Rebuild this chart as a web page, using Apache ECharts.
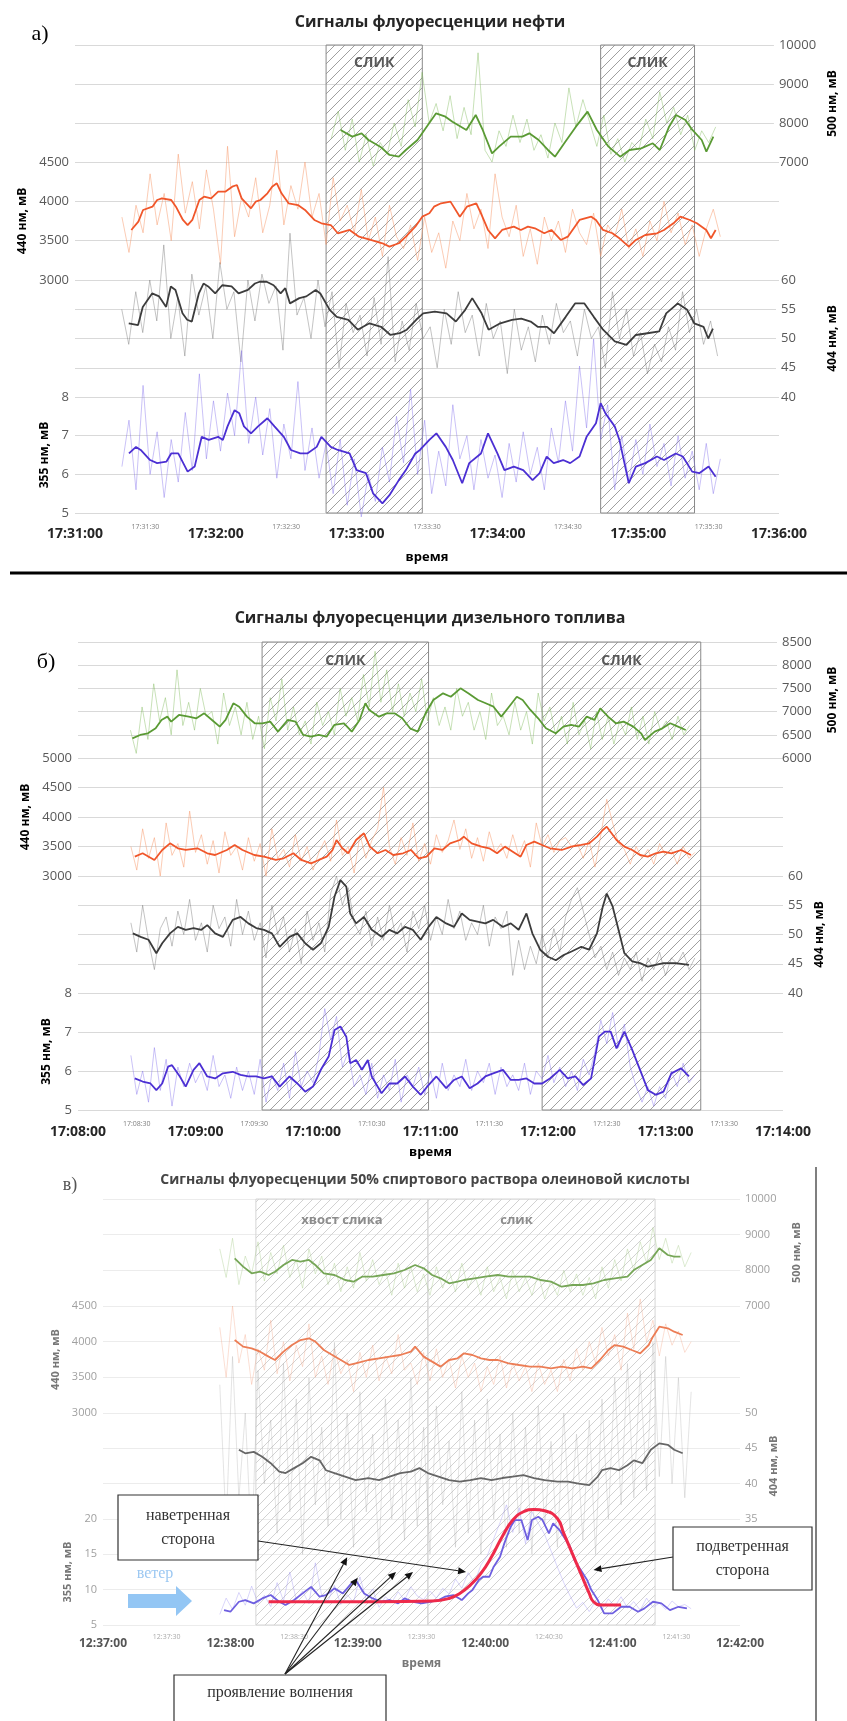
<!DOCTYPE html>
<html><head><meta charset="utf-8">
<script src="https://cdn.jsdelivr.net/npm/echarts@6/dist/echarts.min.js"></script>
<style>html,body{margin:0;padding:0;background:#fff}#c{width:847px;height:1721px}</style>
</head><body><div id="c"></div>
<script>
// ===================== DATA =====================
// time in seconds from the panel's first tick
const aBase = '17:31:00', bBase = '17:08:00', cBase = '12:37:00';
const aTicks = {g:[7000,10000,1000], o:[3000,4500,500], k:[40,60,5], b:[5,8,1]};
const bTicks = {g:[6000,8500,500], o:[3000,5000,500], k:[40,60,5], b:[5,8,1]};
const cTicks = {g:[7000,10000,1000], o:[3000,4500,500], k:[35,50,5], b:[5,20,5]};
const aSlicks = [[107,148],[224,264]], aSlickNames = ['СЛИК','СЛИК'];
const bSlicks = [[94,179],[237,318]], bSlickNames = ['СЛИК','СЛИК'];
const cSlicks = [[72,153],[153,260]], cSlickNames = ['хвост слика','слик'];

// ---- panel a (нефть) smoothed ----
const aGreenS = [[114,7820],[119,7650],[123,7735],[126,7564],[131,7393],[135,7180],[139,7137],[142,7308],[147,7564],[152,7992],[155,8248],[159,8162],[162,8034],[168,7821],[172,8205],[175,7821],[179,7222],[182,7393],[187,7650],[192,7650],[195,7735],[199,7564],[203,7308],[206,7137],[210,7480],[215,7906],[220,8291],[224,7821],[229,7393],[234,7137],[238,7308],[243,7350],[248,7480],[251,7308],[255,7906],[258,8205],[262,8077],[265,7821],[269,7564],[271,7265],[274,7650]];
const aOrangeS = [[24,3636],[27,3741],[29,3890],[33,3932],[35,4017],[37,4038],[41,4017],[43,3932],[46,3763],[48,3699],[50,3763],[53,4017],[55,4059],[58,4038],[61,4123],[64,4123],[67,4186],[69,4208],[71,4038],[75,3911],[77,3996],[79,4017],[82,4102],[84,4186],[86,4229],[88,4102],[91,3975],[95,3953],[98,3890],[102,3763],[105,3721],[109,3699],[112,3594],[117,3636],[121,3551],[126,3509],[131,3467],[134,3424],[138,3467],[141,3551],[145,3678],[148,3805],[151,3848],[153,3932],[156,3975],[160,3996],[164,3805],[167,3932],[171,3975],[173,3848],[176,3636],[179,3530],[182,3636],[187,3678],[190,3636],[193,3678],[196,3657],[200,3594],[203,3636],[207,3509],[210,3551],[215,3763],[220,3805],[222,3763],[225,3636],[229,3594],[232,3530],[236,3424],[239,3509],[243,3572],[248,3594],[251,3636],[255,3721],[258,3805],[262,3763],[265,3721],[269,3636],[271,3530],[273,3636]];
const aBlackS = [[23,52.6],[27,52.3],[29,55.4],[33,57.7],[36,57.2],[39,55.4],[41,58.9],[43,58.3],[46,54.3],[48,53.2],[50,52.9],[53,57.7],[55,59.4],[57,58.9],[60,57.7],[63,59.1],[67,58.9],[70,57.7],[74,58.3],[77,59.4],[79,59.7],[82,59.7],[85,59.1],[88,57.7],[90,58.6],[92,56.0],[96,56.9],[99,57.2],[103,58.3],[105,57.7],[109,54.9],[112,53.7],[117,53.2],[121,51.5],[126,52.6],[131,52.0],[135,50.6],[139,50.9],[142,51.5],[146,53.2],[149,54.3],[154,54.6],[159,54.3],[163,52.9],[167,54.9],[170,56.9],[174,54.3],[177,51.5],[182,52.6],[187,53.2],[191,53.4],[195,52.9],[198,52.0],[202,52.0],[205,50.9],[210,53.7],[214,56.0],[218,56.0],[222,53.7],[226,51.5],[231,49.5],[236,48.9],[240,50.6],[245,50.9],[250,51.2],[253,54.3],[258,56.0],[262,54.9],[265,52.6],[269,52.0],[271,50.0],[273,51.7]];
const aBlueS = [[23,6.54],[26,6.71],[28,6.63],[32,6.37],[35,6.29],[39,6.33],[41,6.54],[44,6.54],[48,6.07],[51,6.20],[54,6.97],[57,6.89],[61,6.97],[63,6.89],[65,7.24],[68,7.66],[70,7.58],[72,7.24],[75,7.06],[78,7.24],[82,7.45],[85,7.24],[89,6.97],[92,6.63],[96,6.54],[99,6.54],[103,6.71],[105,6.97],[109,6.71],[112,6.63],[117,6.54],[120,6.11],[124,6.03],[127,5.51],[131,5.25],[134,5.46],[138,5.85],[141,6.11],[145,6.54],[147,6.63],[151,6.89],[154,7.06],[158,6.71],[161,6.37],[165,5.77],[168,6.29],[173,6.54],[176,7.06],[180,6.54],[183,6.11],[187,6.20],[191,6.11],[195,5.85],[198,6.03],[201,6.46],[204,6.29],[208,6.37],[211,6.29],[215,6.46],[218,6.97],[222,7.32],[224,7.84],[226,7.58],[230,7.24],[232,6.89],[236,5.77],[239,6.20],[243,6.29],[248,6.46],[251,6.37],[256,6.54],[259,6.46],[263,6.07],[266,6.03],[270,6.20],[273,5.94]];
// ---- panel a raw (every 3 s) ----
const aRawStep = 3, aGreenRawStart = 110, aRawStart = 20;
const aGreenRaw = [7600,8300,7300,8100,7000,7700,6900,7500,7200,8000,7400,8600,7900,9300,8000,8500,7800,8700,7600,8400,
 7700,9800,7300,7000,7800,7400,8200,7500,8100,7300,7700,7100,8000,7500,8900,7900,8600,8000,7400,8200,
 7200,7600,7000,7500,7300,8100,7600,8800,8000,8400,7700,8200,7300,7800,7500,7900];
const aOrangeRaw = [3800,3350,3950,3600,4350,3700,4100,3500,4600,3850,4250,3650,4400,3900,3200,4700,3550,4050,3800,4300,
 3600,3950,4650,3700,4200,3900,4500,3800,4100,3450,4300,3750,3950,3600,4150,3500,3800,3300,3950,3550,
 3400,3700,3250,3800,3350,3600,3150,3750,3500,4100,3650,3900,3400,4350,3800,3550,3950,3300,3650,3200,
 3800,3500,3750,3350,3900,3600,3450,3850,3300,3700,3550,3900,3400,3650,3300,3750,3500,4000,3600,3850,
 3450,3700,3300,3650,3900,3550];
const aBlackRaw = [55,49,58,51,60,53,66,50,57,47,61,54,59,50,63,55,58,46,60,53,
 61,56,59,48,68,54,57,50,60,52,58,45,56,51,54,47,57,49,64,46,
 53,48,56,50,52,45,55,49,58,51,54,47,56,50,53,44,55,48,52,46,
 54,49,56,51,53,47,55,50,52,45,58,50,55,47,51,44,49,46,52,48,
 58,51,55,49,53,47];
const aBlueRaw = [6.2,7.4,5.6,8.3,6.0,7.1,5.4,6.9,5.8,7.6,6.1,8.6,6.4,7.9,6.6,8.1,7.0,9.2,6.8,8.0,
 6.5,7.7,5.9,7.3,6.4,8.4,6.1,7.2,5.9,6.8,5.5,6.9,5.2,6.4,4.9,6.0,5.3,6.7,5.8,7.5,
 6.3,8.2,6.0,7.4,5.5,6.6,5.7,7.8,6.4,7.0,5.6,6.9,5.9,6.5,5.4,6.8,5.8,7.1,6.0,6.7,
 5.6,7.2,6.3,7.9,6.6,8.8,7.2,9.5,6.9,7.8,5.6,7.0,5.8,6.9,6.0,7.3,6.2,6.8,5.7,7.0,
 5.9,6.6,5.6,6.8,5.5,6.4];

// ---- panel b (дизельное топливо) smoothed ----
const bGreenS = [[28,6424],[32,6496],[36,6532],[40,6640],[43,6820],[46,6891],[48,6783],[52,6927],[57,6891],[61,6856],[65,6963],[69,6820],[73,6676],[76,6820],[80,7179],[83,7106],[87,6891],[91,6748],[95,6748],[99,6783],[103,6568],[108,6820],[112,6783],[116,6496],[120,6460],[124,6496],[128,6460],[132,6712],[137,6748],[141,6568],[145,6820],[148,7179],[150,7035],[155,6891],[159,6963],[163,6963],[167,6856],[171,6640],[175,6568],[179,6963],[183,7250],[188,7394],[192,7321],[197,7502],[201,7394],[206,7250],[210,7179],[214,7106],[218,6891],[222,7106],[226,7321],[229,7250],[233,7035],[237,6856],[241,6640],[246,6532],[250,6676],[254,6712],[258,6676],[262,6891],[266,6820],[269,7071],[273,6891],[277,6748],[281,6783],[286,6676],[290,6532],[292,6389],[297,6568],[301,6640],[305,6748],[309,6676],[313,6604]];
const bOrangeS = [[29,3328],[33,3385],[39,3272],[43,3441],[47,3554],[51,3470],[55,3441],[61,3470],[66,3385],[70,3356],[76,3441],[80,3526],[84,3441],[90,3356],[95,3328],[101,3272],[105,3300],[110,3385],[114,3272],[119,3215],[123,3272],[127,3328],[130,3441],[132,3610],[135,3470],[138,3385],[142,3610],[146,3724],[149,3498],[153,3385],[157,3441],[161,3356],[166,3385],[170,3441],[174,3300],[178,3328],[182,3470],[186,3441],[190,3554],[195,3610],[197,3667],[201,3554],[206,3498],[210,3470],[214,3385],[218,3498],[222,3413],[226,3328],[229,3526],[233,3582],[237,3526],[241,3470],[247,3441],[252,3498],[257,3526],[261,3554],[265,3667],[268,3780],[270,3836],[275,3610],[279,3498],[283,3441],[287,3356],[291,3328],[295,3385],[299,3413],[303,3385],[308,3441],[313,3356]];
const bBlackS = [[28,50.2],[32,49.6],[36,49.1],[40,46.8],[43,48.5],[47,50.2],[51,51.3],[55,50.8],[59,51.1],[63,50.8],[66,51.6],[70,50.2],[74,49.6],[79,52.5],[83,53.0],[87,51.9],[91,51.1],[95,50.8],[99,50.2],[103,47.9],[108,49.6],[112,50.2],[116,48.5],[120,47.4],[124,48.5],[128,51.3],[131,56.5],[134,59.3],[137,58.2],[139,53.6],[142,51.9],[146,53.0],[150,50.8],[155,49.6],[159,50.8],[163,50.2],[167,51.3],[171,50.8],[175,49.1],[179,51.3],[183,53.0],[188,51.9],[192,51.3],[196,53.6],[200,52.5],[204,52.2],[208,51.9],[212,52.5],[217,51.3],[221,51.9],[225,50.8],[229,53.6],[232,50.2],[236,47.4],[240,46.2],[244,45.6],[248,46.5],[252,47.1],[257,47.9],[261,47.4],[265,50.2],[268,54.8],[270,57.0],[273,54.8],[276,50.8],[279,46.8],[283,45.4],[287,45.1],[291,44.5],[295,44.8],[299,45.1],[305,45.1],[312,44.8]];
const bBlueS = [[29,5.81],[33,5.73],[37,5.68],[40,5.51],[43,5.68],[46,6.11],[48,6.15],[52,5.86],[55,5.60],[59,6.03],[62,6.20],[66,5.86],[70,5.81],[74,5.94],[79,5.98],[83,5.90],[87,5.86],[91,5.86],[95,5.81],[99,5.86],[103,5.60],[108,5.86],[112,5.68],[116,5.47],[120,5.60],[124,6.03],[128,6.37],[131,7.05],[134,7.14],[137,6.88],[139,6.20],[142,6.28],[145,6.03],[148,6.28],[150,5.86],[155,5.43],[159,5.68],[163,5.68],[167,5.86],[171,5.60],[175,5.39],[179,5.64],[183,5.86],[188,5.56],[192,5.77],[196,5.86],[200,5.56],[204,5.68],[208,5.86],[212,5.94],[217,6.03],[221,5.77],[225,5.77],[229,5.81],[233,5.68],[237,5.68],[241,5.81],[246,6.03],[250,5.81],[254,5.86],[258,5.64],[262,5.81],[266,6.88],[269,7.01],[272,7.01],[275,6.58],[279,7.01],[283,6.54],[287,6.03],[291,5.51],[295,5.39],[299,5.47],[303,5.94],[308,6.07],[312,5.86]];
// ---- panel b raw (every 3 s) ----
const bRawStep = 3, bRawStart = 27;
const bGreenRaw = [6600,6100,7100,6400,7600,6800,7300,6500,7900,6700,7200,6600,7500,6900,7000,6300,7400,6700,7100,6500,
 7200,6400,6900,6200,7300,6800,7700,6600,7100,6500,6800,6300,7200,6700,7000,6500,7500,6900,7300,6800,
 7800,7100,8300,7200,7900,7000,7600,6900,7400,7000,7700,6800,7300,6700,7100,6600,7500,6900,7200,6600,
 7000,6400,7400,6700,6900,6500,7200,6600,7000,6300,7400,6800,7100,6500,6900,6300,7200,6500,6800,6200,
 7000,6400,6900,6300,6800,6500,7100,6400,6900,6300,7000,6600,6800,6400,6900,6500,6700];
const bOrangeRaw = [3500,3100,3800,3300,3650,3000,3900,3350,3550,3150,4100,3400,3700,3200,3600,3050,3750,3350,3500,3100,
 3650,3250,3550,3000,3800,3300,3450,3150,3700,3250,3500,3100,3400,3600,3250,3950,3350,3500,3050,3700,
 3300,3600,3800,4500,3500,3200,3650,3350,3900,3250,3550,3200,3700,3400,3600,3950,3450,3800,3300,3650,
 3250,3750,3400,3550,3300,3700,3350,3600,3150,3900,3500,3700,3400,3600,3650,3500,3550,3300,3600,3150,
 3700,4300,3900,3550,3450,3200,3500,3300,3450,3200,3550,3350,3450,3200,3500,3300,3400];
const bBlackRaw = [52,47,55,49,44,51,53,48,54,50,56,49,52,47,55,51,53,48,56,50,
 54,49,52,46,55,50,53,47,51,45,54,49,52,47,57,60,55,58,52,50,
 54,48,53,49,55,50,52,47,54,51,55,49,53,50,56,51,54,49,52,50,
 55,48,53,51,54,43,49,44,48,45,50,46,51,47,53,56,58,54,50,46,
 48,44,47,43,46,44,47,42,46,44,47,43,46,45,47,44,46];
const bBlueRaw = [6.4,5.4,6.0,5.2,6.6,5.5,6.3,5.1,6.1,5.6,6.2,5.7,6.0,5.5,6.4,5.6,5.9,5.3,6.1,5.5,
 6.0,5.4,6.3,5.2,5.9,5.5,6.2,5.3,6.5,5.6,6.0,5.7,6.4,7.6,6.8,7.4,6.1,6.5,5.6,5.9,
 5.4,6.2,5.3,5.9,5.5,6.3,5.2,5.9,5.6,6.1,5.4,6.0,5.3,6.2,5.5,5.9,5.6,6.3,5.5,6.0,
 5.7,6.2,5.4,6.1,5.6,5.9,5.5,6.2,5.4,6.0,5.8,6.4,5.7,6.1,5.6,6.0,5.5,6.3,5.9,6.5,
 7.3,6.7,7.5,6.6,7.2,6.1,5.6,5.2,5.6,5.1,5.6,5.3,6.0,5.6,6.2,5.7,5.9];

// ---- panel c (олеиновая кислота) smoothed ----
const cGreenS = [[62,8337],[66,8103],[70,7916],[74,7962],[78,7869],[81,7962],[85,8150],[89,8290],[93,8242],[97,8290],[100,8150],[104,7916],[109,7869],[114,7729],[118,7682],[122,7822],[127,7822],[132,7869],[137,7916],[142,8009],[147,8150],[151,8057],[155,7869],[159,7776],[163,7636],[167,7682],[170,7729],[175,7776],[180,7822],[186,7869],[191,7822],[196,7822],[201,7822],[206,7729],[211,7682],[216,7541],[221,7589],[226,7589],[231,7636],[236,7729],[241,7776],[247,7822],[250,8009],[254,8150],[258,8290],[262,8617],[266,8430],[269,8383],[272,8383]];
const cOrangeT = [62,66,70,74,78,81,85,89,93,97,100,104,108,112,116,119,125,130,135,140,145,147,151,155,159,163,167,170,174,178,182,186,191,196,201,206,211,216,221,226,230,234,238,241,245,249,253,257,259,262,266,269,273];
const cOrangeV = [4023,3930,3907,3860,3790,3743,3860,3953,4023,4047,4000,3883,3813,3743,3673,3697,3743,3767,3790,3813,3860,3930,3790,3720,3650,3743,3767,3837,3813,3767,3743,3743,3697,3673,3650,3650,3626,3650,3626,3650,3626,3743,3883,3953,3930,3883,3837,3953,4070,4210,4187,4140,4093];
const cBlackT = [64,67,71,75,79,83,86,90,94,98,102,105,109,114,119,125,130,135,140,145,149,153,158,163,168,173,178,183,188,193,198,203,208,214,219,224,229,233,235,239,243,247,250,254,258,262,266,269,273];
const cBlackV = [44.8,44.3,44.5,43.8,42.9,41.7,41.5,42.2,42.9,43.8,43.3,41.9,41.5,41.0,40.5,40.8,40.5,41.0,41.5,41.7,42.2,41.5,41.0,40.5,40.3,40.5,40.8,40.5,40.8,41.0,41.2,40.8,40.5,40.3,40.3,40.0,39.8,41.0,41.9,42.2,41.9,42.6,43.3,42.9,44.8,45.7,45.5,44.8,44.3];
const cBlueT = [57,60,64,67,71,75,79,83,86,90,94,98,102,105,109,113,117,119,123,127,131,135,139,142,146,150,154,158,161,165,169,172,174,177,179,182,184,187,189,192,194,197,200,202,205,207,210,212,215,217,220,222,225,228,230,233,236,240,244,248,252,255,259,263,267,271,275];
const cBlueV = [7.11,6.88,8.29,8.53,8.06,8.76,9.24,8.29,7.82,8.53,9.47,10.4,9.0,9.24,10.18,9.47,10.89,11.36,9.47,8.76,8.29,8.53,8.06,8.76,8.29,8.06,8.29,8.53,9.0,9.24,8.53,9.47,9.94,11.36,11.83,11.83,13.25,14.66,16.55,18.91,19.85,19.85,17.02,19.85,20.32,19.85,17.96,19.38,18.43,17.49,16.08,14.19,12.77,11.36,9.94,8.53,6.64,6.64,7.58,7.58,6.88,7.35,8.29,8.06,7.11,7.58,7.35];
const cFitT = [78,104,130,155,163,168,173,178,183,188,193,198,203,208,214,217,221,225,229,231,235,244];
const cFitV = [8.29,8.29,8.29,8.39,8.76,9.47,10.65,12.3,14.66,17.49,19.85,21.03,21.36,21.17,20.08,17.96,15.13,12.3,9.47,8.29,7.82,7.82];
// ---- panel c raw (every 3 s) ----
const cRawStep = 3, cRawStart = 55;
const cGreenRaw = [8600,7800,8900,7600,8400,7900,8800,7700,8500,7900,8700,7800,8300,7500,8600,7900,8400,7600,8200,7400,
 8100,7500,8500,7700,8300,7600,8000,7300,8200,7500,8100,7400,7900,7300,8100,7500,8000,7400,8200,7500,
 7900,7300,8100,7400,7800,7200,8000,7400,7800,7300,7900,7200,7700,7300,8000,7400,7900,7300,7800,7200,
 8100,7500,8300,7700,8600,8000,8800,8200,9200,8300,8900,8200,8700,8100,8500];
const cOrangeRaw = [4200,3500,4500,3700,4100,3400,3900,3600,4300,3550,4000,3450,3950,3650,4250,3500,3800,3400,3900,3550,
 3750,3300,3850,3500,3950,3450,3800,3550,4100,3600,3700,3400,3850,3450,3900,3500,3750,3350,3800,3500,
 3700,3300,3650,3400,3800,3350,3700,3450,3650,3300,3700,3400,3600,3300,3750,3450,3900,3600,4000,3700,
 4200,3800,4100,3600,4400,3900,4600,4000,4300,3800,4250,3950,4150,3850,4000];
const cBlackRaw = [54,34,58,38,50,31,56,40,49,33,57,36,52,30,55,37,48,34,60,35,
 50,31,53,36,47,30,52,35,49,32,55,34,48,30,51,37,46,31,53,33,
 49,30,52,35,47,31,50,33,48,30,51,34,46,31,50,33,47,32,49,30,
 52,35,55,37,57,38,56,39,60,41,58,40,55,38,53];
const cBlueRaw = [6.5,8.8,7.2,9.6,7.8,10.5,8.1,9.2,7.6,11.0,
 8.4,12.5,8.6,9.8,8.0,13.8,9.2,8.4,10.6,7.9,
 9.3,8.2,11.8,8.6,10.1,7.5,9.0,8.2,9.7,8.5,
 10.4,9.1,8.6,9.8,8.8,10.2,9.4,11.5,10.2,12.4,
 11.0,13.5,14.8,17.2,19.5,22.0,18.1,21.6,16.5,21.0,
 19.4,17.8,15.5,13.2,11.0,9.1,7.4,8.2,6.9,8.4,
 7.2,8.7,7.6,9.0,7.4,8.3,7.1,8.8,7.5,8.1,
 7.2,8.4,7.6,7.9,7.3];
// annotation targets in panel c (time s, 355 нм value)
const cWindwardTip = [171,12.5], cLeewardTip = [231,12.8];
const cWaveTips = [[115,14.6],[120,11.7],[138,12.5],[146,12.5]];

// ===================== STYLE / LAYOUT =====================
const FONT = "'Open Sans', 'Noto Sans', sans-serif";
const SERIF = "'Liberation Serif', 'DejaVu Serif', serif";
const zip = (t, v) => t.map((x, i) => [x, v[i]]);
const toSec = s => { const p = s.split(':').map(Number); return p[0]*3600 + p[1]*60 + p[2]; };
const pad = n => (n < 10 ? '0' : '') + n;
const hms = (base, v) => { const t = toSec(base) + Math.round(v); return Math.floor(t/3600) + ':' + pad(Math.floor(t%3600/60)) + ':' + pad(t%60); };

function hatch(color, size) {
  const c = document.createElement('canvas'); c.width = c.height = size;
  const x = c.getContext('2d'); x.strokeStyle = color; x.lineWidth = 1;
  x.beginPath();
  x.moveTo(0, size); x.lineTo(size, 0);
  x.moveTo(-size/2, size/2); x.lineTo(size/2, -size/2);
  x.moveTo(size/2, size*1.5); x.lineTo(size*1.5, size/2);
  x.stroke();
  return { image: c, repeat: 'repeat' };
}

const themeAB = { grid:'#d9d9d9', label:'#595959', labelSize:13, xlabel:'#262626', xlabelSize:14, minor:'#7f7f7f',
  hatch:'#a0a0a0', hatchBorder:'#8a8a8a', hatchSize:10, slickColor:'#595959', slickSize:14, name:'#000', nameSize:12,
  line:['#5a9a34','#f0562a','#3c3c3c','#4b2fd3'],
  raw:['rgba(120,180,80,0.45)','rgba(246,150,105,0.55)','rgba(110,110,110,0.45)','rgba(125,105,235,0.45)'] };
const themeC = { grid:'#ececec', label:'#a0a0a0', labelSize:11, xlabel:'#555', xlabelSize:12, minor:'#aaa',
  hatch:'#d2d2d2', hatchBorder:'#d5d5d5', hatchSize:9, slickColor:'#8c8c8c', slickSize:13, name:'#777', nameSize:11,
  line:['#76a657','#ec7d55','#666','#6e5fe0'],
  raw:['rgba(160,200,130,0.4)','rgba(245,165,135,0.4)','rgba(160,160,160,0.32)','rgba(150,140,240,0.4)'] };

const PANELS = [
  { base:aBase, xMax:300, left:75, width:704, tops:[45,162,280,397,513], ticks:aTicks, theme:themeAB,
    names:['500 нм, мВ','440 нм, мВ','404 нм, мВ','355 нм, мВ'], nameGaps:[52,40,51,16],
    smooth:{g:aGreenS, o:aOrangeS, k:aBlackS, b:aBlueS},
    raw:{g:{s:aGreenRawStart,v:aGreenRaw}, o:{s:aRawStart,v:aOrangeRaw}, k:{s:aRawStart,v:aBlackRaw}, b:{s:aRawStart,v:aBlueRaw}}, step:aRawStep,
    slicks:aSlicks, slickNames:aSlickNames, slickDist:12, xMargin:14, minorMargin:10, xNameGap:38 },
  { base:bBase, xMax:360, left:78, width:705, tops:[642,758,876,993,1110], ticks:bTicks, theme:themeAB,
    names:['500 нм, мВ','440 нм, мВ','404 нм, мВ','355 нм, мВ'], nameGaps:[50,46,28,25],
    smooth:{g:bGreenS, o:bOrangeS, k:bBlackS, b:bBlueS},
    raw:{g:{s:bRawStart,v:bGreenRaw}, o:{s:bRawStart,v:bOrangeRaw}, k:{s:bRawStart,v:bBlackRaw}, b:{s:bRawStart,v:bBlueRaw}}, step:bRawStep,
    slicks:bSlicks, slickNames:bSlickNames, slickDist:13, xMargin:15, minorMargin:10, xNameGap:36 },
  { base:cBase, xMax:300, left:103, width:637, tops:[1199,1306,1413,1519,1625], ticks:cTicks, theme:themeC,
    names:['500 нм, мВ','440 нм, мВ','404 нм, мВ','355 нм, мВ'], nameGaps:[51,41,25,21],
    smooth:{g:cGreenS, o:zip(cOrangeT,cOrangeV), k:zip(cBlackT,cBlackV), b:zip(cBlueT,cBlueV)},
    raw:{g:{s:cRawStart,v:cGreenRaw}, o:{s:cRawStart,v:cOrangeRaw}, k:{s:cRawStart,v:cBlackRaw}, b:{s:cRawStart,v:cBlueRaw}}, step:cRawStep,
    slicks:cSlicks, slickNames:cSlickNames, slickDist:15, slickOffsets:[[0,0],[-25,0]], xMargin:13, minorMargin:8, xNameGap:33,
    fit: zip(cFitT, cFitV) }
];

const grid = [], xAxis = [], yAxis = [], series = [];
const KEYS = ['g','o','k','b'];
PANELS.forEach(P => {
  const T = P.theme;
  // hatched slick zones (full height)
  let g = grid.length;
  grid.push({ left:P.left, width:P.width, top:P.tops[0], height:P.tops[4]-P.tops[0] });
  let xi = xAxis.length, yi = yAxis.length;
  xAxis.push({ gridIndex:g, type:'value', min:0, max:P.xMax, show:false });
  yAxis.push({ gridIndex:g, type:'value', min:0, max:1, show:false });
  series.push({ type:'line', xAxisIndex:xi, yAxisIndex:yi, data:[[P.slicks[0][0], -5]], showSymbol:false, silent:true, z:1,
    lineStyle:{ width:0 },
    markArea:{ silent:true, itemStyle:{ color:hatch(T.hatch, T.hatchSize), borderColor:T.hatchBorder, borderWidth:1 },
      label:{ show:true, position:'insideTop', distance:P.slickDist, color:T.slickColor, fontFamily:FONT, fontSize:T.slickSize, fontWeight:'bold' },
      data:P.slicks.map((s, i) => [
        { xAxis:s[0], yAxis:0, name:P.slickNames[i], label:{ offset:(P.slickOffsets ? P.slickOffsets[i] : [0,0]) } },
        { xAxis:s[1], yAxis:1 }]) } });
  for (let r = 0; r < 4; r++) {
    g = grid.length;
    grid.push({ left:P.left, width:P.width, top:P.tops[r], height:P.tops[r+1]-P.tops[r] });
    xi = xAxis.length; yi = yAxis.length;
    const bottom = (r === 3), right = (r % 2 === 0), key = KEYS[r], rg = P.ticks[key];
    xAxis.push({ gridIndex:g, type:'value', position:'bottom', min:0, max:P.xMax, interval:60,
      axisLine:{show:false}, axisTick:{show:false}, splitLine:{show:false},
      axisLabel: bottom ? { margin:P.xMargin, color:T.xlabel, fontSize:T.xlabelSize, fontWeight:'bold', fontFamily:FONT,
        formatter: v => hms(P.base, v) } : { show:false },
      name: bottom ? 'время' : '', nameLocation:'middle', nameGap:P.xNameGap,
      nameTextStyle:{ color:T.name, fontWeight:'bold', fontSize:T.nameSize + 1, fontFamily:FONT } });
    yAxis.push({ gridIndex:g, type:'value', position: right ? 'right' : 'left', min:rg[0], max:rg[1], interval:rg[2],
      axisLine:{show:false}, axisTick:{show:false},
      splitLine:{ show:true, lineStyle:{ color:T.grid, width:1 } },
      axisLabel:{ color:T.label, fontSize:T.labelSize, fontFamily:FONT, margin: right ? 5 : 6, formatter: v => String(v) },
      name:P.names[r], nameLocation:'middle', nameRotate:90, nameGap:P.nameGaps[r],
      nameTextStyle:{ color:T.name, fontWeight:'bold', fontSize:T.nameSize, fontFamily:FONT } });
    const raw = P.raw[key];
    series.push({ type:'line', xAxisIndex:xi, yAxisIndex:yi, data:raw.v.map((v, i) => [raw.s + i*P.step, v]),
      showSymbol:false, clip:false, silent:true, z:2, lineStyle:{ color:T.raw[r], width:0.9 } });
    series.push({ type:'line', xAxisIndex:xi, yAxisIndex:yi, data:P.smooth[key],
      showSymbol:false, clip:false, silent:true, z:3, lineStyle:{ color:T.line[r], width:1.8 } });
    if (bottom) {
      P.bx = xi; P.by = yi;
      xAxis.push({ gridIndex:g, type:'value', position:'bottom', offset:0, min:0, max:P.xMax, interval:30,
        axisLine:{show:false}, axisTick:{show:false}, splitLine:{show:false},
        axisLabel:{ margin:P.minorMargin, color:T.minor, fontSize:7, fontFamily:FONT,
          formatter: v => (Math.round(v) % 60 === 30 ? hms(P.base, v) : '') } });
      if (P.fit) series.push({ type:'line', xAxisIndex:xi, yAxisIndex:yi, data:P.fit, smooth:true,
        showSymbol:false, clip:false, silent:true, z:4, lineStyle:{ color:'#ee2a4a', width:3 } });
    }
  }
});

const chart = echarts.init(document.getElementById('c'), null, { renderer:'canvas' });
chart.setOption({ animation:false, backgroundColor:'#fff', grid, xAxis, yAxis, series });

// ===================== TEXT & ANNOTATIONS =====================
const PC = PANELS[2];
const px = p => chart.convertToPixel({ xAxisIndex:PC.bx, yAxisIndex:PC.by }, p);
function arrow(from, to) {
  const a = Math.atan2(to[1]-from[1], to[0]-from[0]), L = 8, W = 3.5;
  const b = [to[0]-L*Math.cos(a), to[1]-L*Math.sin(a)];
  return [
    { type:'line', z:20, shape:{ x1:from[0], y1:from[1], x2:b[0], y2:b[1] }, style:{ stroke:'#222', lineWidth:1.1 } },
    { type:'polygon', z:20, shape:{ points:[to, [b[0]+W*Math.sin(a), b[1]-W*Math.cos(a)], [b[0]-W*Math.sin(a), b[1]+W*Math.cos(a)]] }, style:{ fill:'#111' } }
  ];
}
const txt = (x, y, text, st) => ({ type:'text', z:30, style:Object.assign({ x, y, text, align:'center', verticalAlign:'middle', fontFamily:FONT }, st) });
const box = (x, y, w, h, text, ty) => [
  { type:'rect', z:25, shape:{ x, y, width:w, height:h }, style:{ fill:'#fff', stroke:'#333', lineWidth:1.2 } },
  txt(x + w/2, ty || (y + h/2), text, { fontFamily:SERIF, fontSize:16, lineHeight:24, fill:'#333' })
];
const G = [
  txt(430, 22, 'Сигналы флуоресценции нефти', { fontSize:16, fontWeight:'bold', fill:'#262626' }),
  txt(40, 34, 'а)', { fontFamily:SERIF, fontSize:22, fill:'#000' }),
  { type:'line', z:30, shape:{ x1:10, y1:573, x2:847, y2:573 }, style:{ stroke:'#000', lineWidth:3 } },
  txt(430, 618, 'Сигналы флуоресценции дизельного топлива', { fontSize:16, fontWeight:'bold', fill:'#262626' }),
  txt(46, 662, 'б)', { fontFamily:SERIF, fontSize:22, fill:'#000' }),
  txt(425, 1180, 'Сигналы флуоресценции 50% спиртового раствора олеиновой кислоты', { fontSize:14, fontWeight:'bold', fill:'#454545' }),
  txt(70, 1185, 'в)', { fontFamily:SERIF, fontSize:18, fill:'#555' }),
  { type:'line', z:30, shape:{ x1:816, y1:1167, x2:816, y2:1721 }, style:{ stroke:'#555', lineWidth:1.5 } },
  txt(155, 1574, 'ветер', { fontFamily:SERIF, fontSize:16, fill:'#9cc8f2' }),
  { type:'polygon', z:30, shape:{ points:[[128,1594],[176,1594],[176,1586],[192,1601],[176,1616],[176,1608],[128,1608]] }, style:{ fill:'#93c6f4' } },
  ...box(118, 1495, 140, 65, 'наветренная\nсторона'),
  ...box(673, 1527, 139, 63, 'подветренная\nсторона'),
  ...box(174, 1675, 212, 52, 'проявление волнения', 1693),
  ...arrow([258, 1541], px(cWindwardTip)),
  ...arrow([673, 1557], px(cLeewardTip)),
  ...cWaveTips.flatMap(t => arrow([285, 1674], px(t)))
];
chart.setOption({ graphic: G });
</script></body></html>
